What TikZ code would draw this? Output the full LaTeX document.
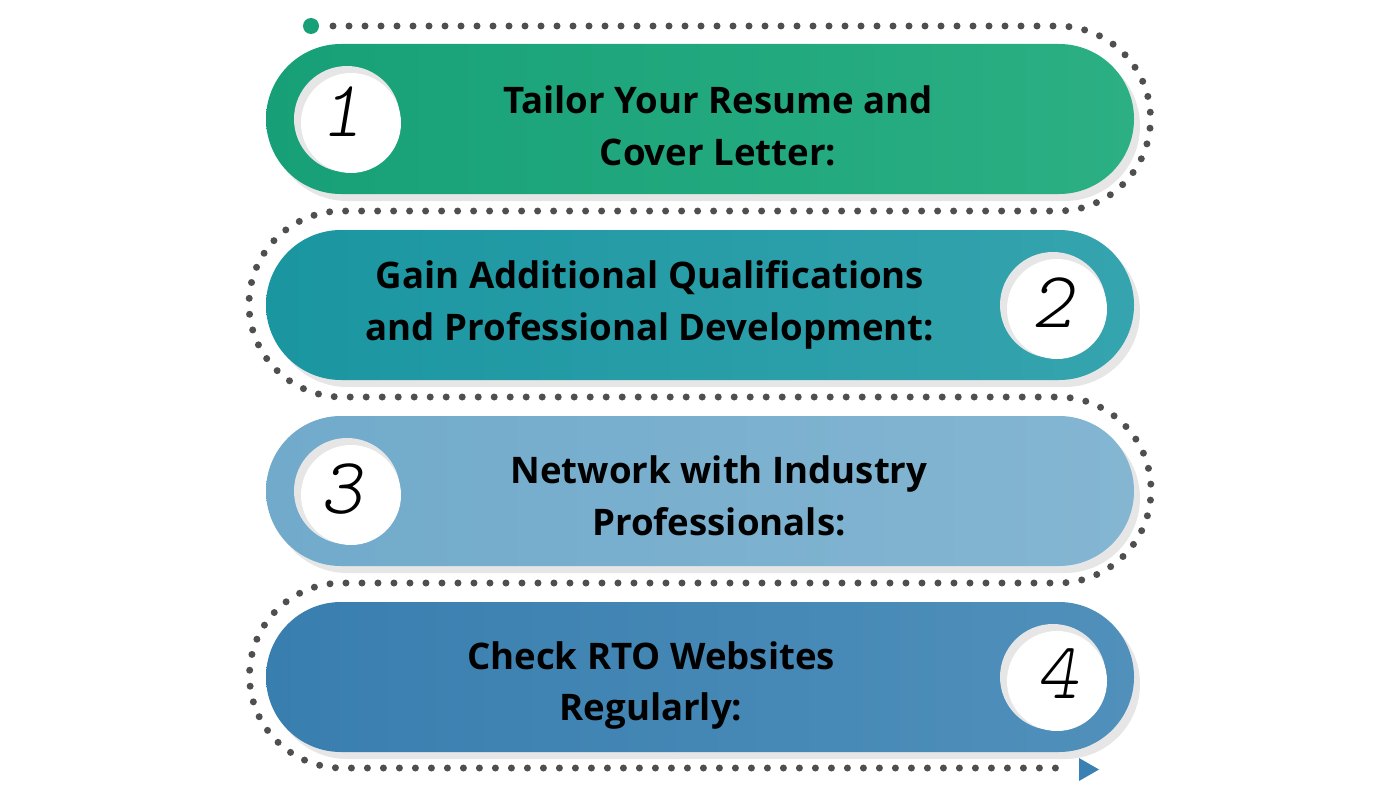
\documentclass[tikz,border=0pt]{standalone}
\usepackage{fontspec}
\newfontfamily\lblfont{Open Sans}
\newfontfamily\numfont{lmmonolt10-oblique.otf}
\usetikzlibrary{shapes.misc}
\definecolor{pAl}{HTML}{17A077}
\definecolor{pAr}{HTML}{2BAF83}
\definecolor{pBl}{HTML}{1A96A1}
\definecolor{pBr}{HTML}{35A4AE}
\definecolor{pCl}{HTML}{71AACB}
\definecolor{pCr}{HTML}{84B6D2}
\definecolor{pDl}{HTML}{387EAF}
\definecolor{pDr}{HTML}{5090BB}
\definecolor{shadowgray}{HTML}{E6E6E6}
\definecolor{dotgray}{HTML}{4F4F4F}
\definecolor{startgreen}{HTML}{17A077}
\definecolor{arrowblue}{HTML}{3A80B2}
\tikzset{
  pill/.style={rounded rectangle, minimum width=868pt, minimum height=150pt, inner sep=0pt, draw=none},
  pillshadow/.style={pill, fill=shadowgray},
  discshadow/.style={circle, fill=shadowgray, minimum size=106pt, inner sep=0pt},
  disc/.style={circle, fill=white, minimum size=100pt, inner sep=0pt},
  numtext/.style={font=\numfont\fontsize{80pt}{80pt}\selectfont, text=black, inner sep=0pt},
  lbl/.style={font=\lblfont\bfseries\fontsize{36.6pt}{36.6pt}\selectfont, text=black, inner sep=0pt, anchor=base},
  dotline/.style={draw=dotgray, line width=7pt, line cap=round, dash pattern=on 0pt off 16pt},
}
\begin{document}
\begin{tikzpicture}[x=1pt,y=-1pt]
\useasboundingbox (0,0) rectangle (1400,800);
% dotted route
\node[circle, fill=startgreen, minimum size=16pt, inner sep=0pt] (start) at (311,26) {};
\coordinate (dotstart) at (333,26);
\coordinate (dotend) at (1064,768);
\draw[dotline] (dotstart) -- (1058,26) arc[start angle=90, end angle=-90, radius=92.5pt]
  -- (342,211) arc[start angle=90, end angle=270, radius=93pt]
  -- (1058,397) arc[start angle=90, end angle=-90, radius=93pt]
  -- (342,583) arc[start angle=90, end angle=270, radius=92.5pt]
  -- (dotend);
\coordinate (tipA) at (1079,758);
\coordinate (tipB) at (1099,769.5);
\coordinate (tipC) at (1079,781);
\fill[arrowblue] (tipA) -- (tipB) -- (tipC) -- cycle;
% pills
\node[pillshadow] (s1) at (706,126) {};
\node[pill, left color=pAl, right color=pAr] (p1) at (700,119) {};
\node[pillshadow] (s2) at (706,312) {};
\node[pill, left color=pBl, right color=pBr] (p2) at (700,305) {};
\node[pillshadow] (s3) at (706,498) {};
\node[pill, left color=pCl, right color=pCr] (p3) at (700,491) {};
\node[pillshadow] (s4) at (706,684) {};
\node[pill, left color=pDl, right color=pDr] (p4) at (700,677) {};
% number discs
\node[discshadow] (c1s) at (347,119) {};
\node[disc] (c1) at (351,123) {};
\node[numtext] (n1) at (341,112) {1};
\node[discshadow] (c2s) at (1053,305) {};
\node[disc] (c2) at (1057,309) {};
\node[numtext] (n2) at (1052,303) {2};
\node[discshadow] (c3s) at (347,491) {};
\node[disc] (c3) at (351,495) {};
\node[numtext] (n3) at (341,489) {3};
\node[discshadow] (c4s) at (1053,677) {};
\node[disc] (c4) at (1057,681) {};
\node[numtext] (n4) at (1057,674) {4};
% labels
\node[lbl] (t1a) at (718,113) {Tailor Your Resume and};
\node[lbl] (t1b) at (718,165) {Cover Letter:};
\node[lbl] (t2a) at (650,288) {Gain Additional Qualifications};
\node[lbl] (t2b) at (650,340) {and Professional Development:};
\node[lbl] (t3a) at (719,483) {Network with Industry};
\node[lbl] (t3b) at (719,535) {Professionals:};
\node[lbl] (t4a) at (651,669) {Check RTO Websites};
\node[lbl] (t4b) at (651,720) {Regularly:};
\end{tikzpicture}
\end{document}
